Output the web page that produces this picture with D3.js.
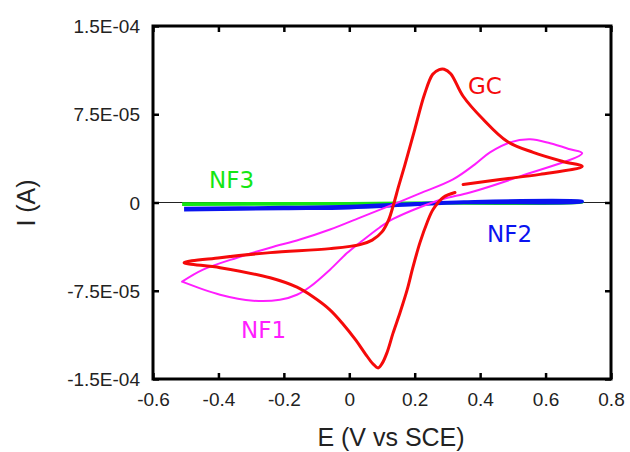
<!DOCTYPE html>
<html>
<head>
<meta charset="utf-8">
<script src="https://cdn.jsdelivr.net/npm/d3@7"></script>
<style>
  html, body { margin: 0; padding: 0; background: #fff; }
  svg { display: block; }
</style>
</head>
<body>
<svg id="chart" width="630" height="452"></svg>
<script>
// ---------- DATA (E in V vs SCE, I in units of 1e-5 A) ----------
const I_UNIT = 1e-5;

const xTicks = [-0.6, -0.4, -0.2, 0, 0.2, 0.4, 0.6, 0.8];
const xTickLabels = ["-0.6", "-0.4", "-0.2", "0", "0.2", "0.4", "0.6", "0.8"];
const yTicks = [1.5e-4, 7.5e-5, 0, -7.5e-5, -1.5e-4];
const yTickLabels = ["1.5E-04", "7.5E-05", "0", "-7.5E-05", "-1.5E-04"];

// GC (glassy carbon) - one continuous trace, small gap near 0.33 V
const gcE = [0.323, 0.287, 0.256, 0.238, 0.216, 0.195, 0.177, 0.155, 0.134, 0.115, 0.100, 0.088,
             0.072, 0.050, 0.020, -0.020, -0.060, -0.111, -0.160, -0.242, -0.395, -0.505,
             -0.395, -0.242, -0.059, 0.033, 0.070, 0.100, 0.120, 0.135, 0.150, 0.170,
             0.200, 0.230, 0.255, 0.275, 0.290, 0.310, 0.348, 0.409, 0.482, 0.562, 0.653, 0.712,
             0.583, 0.461, 0.348];
const gcI = [0.85, 0.43, -0.60, -1.70, -3.41, -5.45, -7.41, -9.37, -11.08, -12.78, -13.70, -14.06,
             -13.70, -12.90, -11.70, -10.30, -9.10, -8.01, -7.20, -6.40, -5.54, -5.11,
             -4.69, -4.26, -3.92, -3.58, -3.20, -2.50, -1.50, -0.20, 1.30, 3.20,
             6.20, 9.20, 10.90, 11.30, 11.33, 10.95, 9.03, 7.07, 5.20, 4.26, 3.49, 3.07,
             2.39, 1.96, 1.53];

// NF1
const nf1E = [-0.511, -0.447, -0.343, -0.242, -0.151, -0.059, 0.033, 0.125, 0.216, 0.317,
              0.384, 0.430, 0.491, 0.553, 0.614, 0.675, 0.712,
              0.522, 0.369, 0.287, 0.216, 0.134, 0.094, 0.033, -0.007, -0.059, -0.120,
              -0.160, -0.212, -0.294, -0.395, -0.511];
const nf1I = [-6.73, -5.71, -4.69, -3.84, -3.15, -2.30, -1.28, -0.26, 0.77, 1.96,
              3.24, 4.26, 5.11, 5.37, 5.03, 4.52, 4.18,
              2.22, 0.85, 0.30, -0.40, -1.40, -2.10, -3.40, -4.30, -5.71, -7.16,
              -7.84, -8.27, -8.35, -7.84, -6.73];

// NF2
const nf2E = [-0.505, -0.2, 0.0, 0.2, 0.35, 0.712, 0.712, 0.35, 0.2, 0.0, -0.2, -0.505];
const nf2I = [-0.50, -0.42, -0.33, -0.10, 0.06, 0.10, 0.06, -0.02, -0.18, -0.45, -0.52, -0.62];

// NF3
const nf3E = [-0.511, 0.0, 0.3, 0.712, 0.712, 0.3, 0.0, -0.511];
const nf3I = [-0.10, -0.08, -0.02, 0.06, 0.02, -0.06, -0.13, -0.16];

const seriesNames = ["NF3", "NF2", "NF1", "GC"];
const seriesColors = ["#14e614", "#0a14f0", "#ff1eff", "#f50a0a"];

// ---------- CHART ----------
const svg = d3.select("#chart");
const L = 153, R = 611, T = 26, B = 379;

const x = d3.scaleLinear().domain([-0.6, 0.8]).range([L, R]);
const y = d3.scaleLinear().domain([-1.5e-4, 1.5e-4]).range([B, T]);

const zip = (E, I) => E.map((e, i) => ({ e, i: I[i] * I_UNIT }));

const line = d3.line()
  .x(d => x(d.e))
  .y(d => y(d.i))
  .curve(d3.curveCatmullRom.alpha(0.5));

// zero line
svg.append("line")
  .attr("x1", L).attr("x2", R)
  .attr("y1", y(0)).attr("y2", y(0))
  .attr("stroke", "#222").attr("stroke-width", 1.2);

const plots = [
  { data: zip(nf3E, nf3I), color: seriesColors[0], w: 3, cap: "butt" },
  { data: zip(nf2E, nf2I), color: seriesColors[1], w: 3.2, cap: "butt" },
  { data: zip(nf1E, nf1I), color: seriesColors[2], w: 2, cap: "round" },
  { data: zip(gcE, gcI), color: seriesColors[3], w: 3, cap: "round" }
];
plots.forEach(p => {
  svg.append("path")
    .datum(p.data)
    .attr("d", line)
    .attr("fill", "none")
    .attr("stroke", p.color)
    .attr("stroke-width", p.w)
    .attr("stroke-linejoin", "round")
    .attr("stroke-linecap", p.cap);
});

// axes (ticks inward on all four sides)
const tickFont = "'Liberation Sans', Arial, sans-serif";
const gB = svg.append("g").attr("transform", `translate(0,${B})`)
  .call(d3.axisBottom(x).tickValues(xTicks).tickSizeInner(-6).tickSizeOuter(0)
    .tickFormat((d, i) => xTickLabels[i]));
const gT = svg.append("g").attr("transform", `translate(0,${T})`)
  .call(d3.axisTop(x).tickValues(xTicks).tickSizeInner(-6).tickSizeOuter(0).tickFormat(""));
const gL = svg.append("g").attr("transform", `translate(${L},0)`)
  .call(d3.axisLeft(y).tickValues(yTicks).tickSizeInner(-6).tickSizeOuter(0)
    .tickFormat((d, i) => yTickLabels[i]));
const gR = svg.append("g").attr("transform", `translate(${R},0)`)
  .call(d3.axisRight(y).tickValues(yTicks).tickSizeInner(-6).tickSizeOuter(0).tickFormat(""));

[gB, gT, gL, gR].forEach(g => {
  g.select(".domain").remove();
  g.selectAll(".tick line").attr("stroke", "#000").attr("stroke-width", 2.5);
  g.selectAll(".tick text").attr("fill", "#222")
    .style("font-family", tickFont).style("font-size", "19px");
});
gB.selectAll(".tick text").attr("y", 14).attr("dy", "0.71em");
gL.selectAll(".tick text").attr("x", -13).attr("dy", "0.35em");

// frame
svg.append("rect")
  .attr("x", L).attr("y", T).attr("width", R - L).attr("height", B - T)
  .attr("fill", "none").attr("stroke", "#000").attr("stroke-width", 3);

// axis titles
svg.append("text")
  .attr("x", 391).attr("y", 446)
  .attr("text-anchor", "middle")
  .attr("fill", "#222")
  .style("font-family", tickFont).style("font-size", "25px")
  .text("E (V vs SCE)");
svg.append("text")
  .attr("transform", "translate(35,203) rotate(-90)")
  .attr("text-anchor", "middle")
  .attr("fill", "#222")
  .style("font-family", tickFont).style("font-size", "25px")
  .text("I (A)");

// series labels
const labelFont = "'DejaVu Sans', Verdana, sans-serif";
const labels = [
  { name: seriesNames[0], color: seriesColors[0], x: 209, y: 188 },
  { name: seriesNames[1], color: seriesColors[1], x: 487, y: 242 },
  { name: seriesNames[2], color: seriesColors[2], x: 241, y: 338 },
  { name: seriesNames[3], color: seriesColors[3], x: 468, y: 94 }
];
labels.forEach(l => {
  svg.append("text")
    .attr("x", l.x).attr("y", l.y)
    .attr("fill", l.color)
    .style("font-family", labelFont).style("font-size", "23px")
    .text(l.name);
});
</script>
</body>
</html>
